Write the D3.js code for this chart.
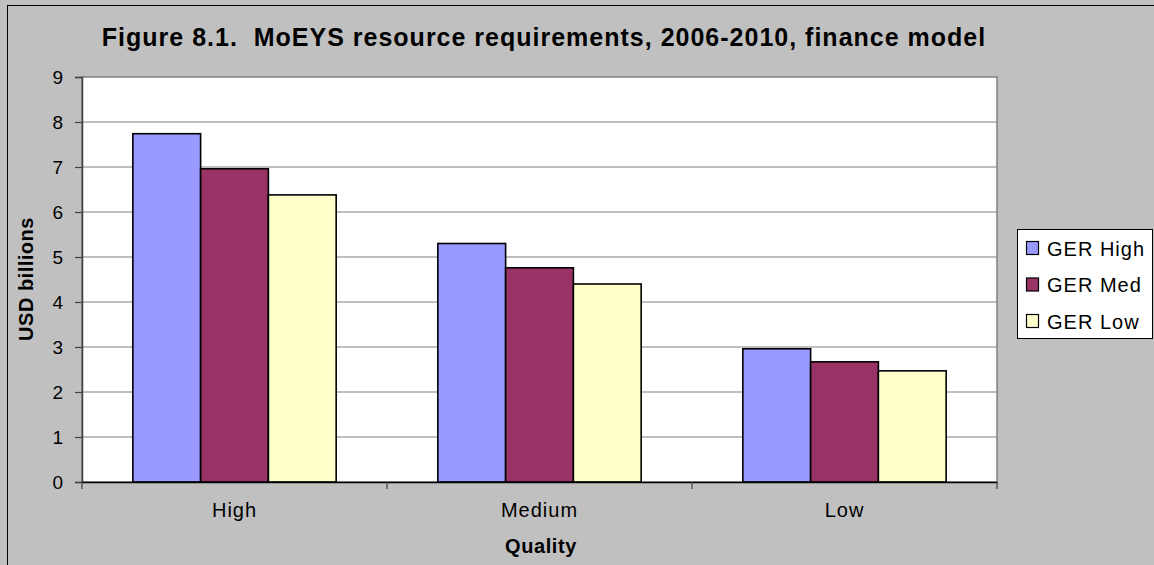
<!DOCTYPE html>
<html>
<head>
<meta charset="utf-8">
<script src="https://cdn.jsdelivr.net/npm/d3@7"></script>
<style>
  html, body { margin: 0; padding: 0; background: #c0c0c0; }
  svg { display: block; font-family: Arial, "Liberation Sans", sans-serif; }
</style>
</head>
<body>
<svg id="chart" width="1154" height="565"></svg>
<script>
// Quality scenarios on the x axis
const categories = ["High", "Medium", "Low"];
// Series (GER scenarios)
const seriesNames = ["GER High", "GER Med", "GER Low"];
const seriesColors = ["#9999ff", "#993366", "#ffffcc"];
// Resource requirements, USD billions, per quality level
const gerHigh = [7.74, 5.30, 2.96];
const gerMed  = [6.96, 4.76, 2.67];
const gerLow  = [6.38, 4.40, 2.47];
const yTicks = [0, 1, 2, 3, 4, 5, 6, 7, 8, 9];

const title = "Figure 8.1.  MoEYS resource requirements, 2006-2010, finance model";
const xTitle = "Quality";
const yTitle = "USD billions";

const seriesValues = [gerHigh, gerMed, gerLow];

const svg = d3.select("#chart");
const plot = { left: 82, top: 77, right: 997, bottom: 482 };

// chart frame
svg.append("rect")
  .attr("x", 7.5).attr("y", 5.5)
  .attr("width", 1200).attr("height", 600)
  .attr("fill", "#c0c0c0").attr("stroke", "#000").attr("stroke-width", 1);

// plot area
svg.append("rect")
  .attr("x", plot.left).attr("y", plot.top)
  .attr("width", plot.right - plot.left).attr("height", plot.bottom - plot.top)
  .attr("fill", "#fff").attr("stroke", "#808080").attr("stroke-width", 1.5);

const x0 = d3.scaleBand().domain(categories).range([plot.left, plot.right]).paddingInner(0).paddingOuter(0);
const groupW = x0.bandwidth();
const barW = groupW / 4.5;
const x1 = d3.scaleBand().domain(seriesNames)
  .range([(groupW - 3 * barW) / 2, (groupW + 3 * barW) / 2]).padding(0);
const y = d3.scaleLinear().domain([0, 9]).range([plot.bottom, plot.top]);

// gridlines
svg.append("g").selectAll("line").data(yTicks.filter(d => d > 0 && d < 9)).join("line")
  .attr("x1", plot.left).attr("x2", plot.right)
  .attr("y1", d => y(d)).attr("y2", d => y(d))
  .attr("stroke", "#808080").attr("stroke-width", 1.2);

// bars
const groups = svg.append("g").selectAll("g").data(categories).join("g")
  .attr("transform", d => `translate(${x0(d)},0)`);
groups.selectAll("rect")
  .data((c, i) => seriesNames.map((s, k) => ({ s, k, v: seriesValues[k][i] })))
  .join("rect")
  .attr("x", d => x1(d.s)).attr("width", x1.bandwidth())
  .attr("y", d => y(d.v)).attr("height", d => y(0) - y(d.v))
  .attr("fill", d => seriesColors[d.k])
  .attr("stroke", "#000").attr("stroke-width", 1.6);

// y axis
const yAxis = svg.append("g").attr("transform", `translate(${plot.left},0)`)
  .call(d3.axisLeft(y).tickValues(yTicks).tickSize(7).tickPadding(12).tickFormat(d3.format("d")));
yAxis.select(".domain").attr("stroke", "#404040").attr("stroke-width", 1.5);
yAxis.selectAll(".tick line").attr("stroke", "#404040").attr("stroke-width", 1.2);
yAxis.selectAll("text").attr("font-size", 19).attr("fill", "#000")
  .attr("font-family", "Arial, 'Liberation Sans', sans-serif");

// x axis
const xAxis = svg.append("g").attr("transform", `translate(0,${plot.bottom})`)
  .call(d3.axisBottom(x0).tickSize(0).tickPadding(21));
xAxis.select(".domain").attr("stroke", "#000").attr("stroke-width", 1.5);
xAxis.selectAll("text").attr("font-size", 20).attr("fill", "#000")
  .attr("letter-spacing", 1)
  .attr("font-family", "Arial, 'Liberation Sans', sans-serif");
// category boundary ticks
const bounds = categories.map(c => x0(c)).concat([x0(categories[categories.length - 1]) + groupW]);
svg.append("g").selectAll("line").data(bounds).join("line")
  .attr("x1", d => d).attr("x2", d => d)
  .attr("y1", plot.bottom).attr("y2", plot.bottom + 7)
  .attr("stroke", "#404040").attr("stroke-width", 1.2);

// title
svg.append("text")
  .attr("x", 544).attr("y", 46)
  .attr("text-anchor", "middle")
  .style("white-space", "pre")
  .attr("font-size", 25).attr("font-weight", "bold").attr("letter-spacing", 1)
  .text(title);

// axis titles
svg.append("text")
  .attr("x", 541).attr("y", 553)
  .attr("text-anchor", "middle")
  .attr("font-size", 20).attr("font-weight", "bold").attr("letter-spacing", 0.6)
  .text(xTitle);
svg.append("text")
  .attr("transform", "translate(33,279) rotate(-90)")
  .attr("text-anchor", "middle")
  .attr("font-size", 20).attr("font-weight", "bold").attr("letter-spacing", 0.5)
  .text(yTitle);

// legend
const legend = svg.append("g");
legend.append("rect")
  .attr("x", 1017.5).attr("y", 229.5).attr("width", 135).attr("height", 109)
  .attr("fill", "#fff").attr("stroke", "#000").attr("stroke-width", 1);
const items = legend.selectAll("g.item").data(seriesNames).join("g")
  .attr("class", "item")
  .attr("transform", (d, i) => `translate(1026,${248 + i * 36.5})`);
items.append("rect")
  .attr("x", 0.5).attr("y", -6.5).attr("width", 12).attr("height", 13)
  .attr("fill", (d, i) => seriesColors[i]).attr("stroke", "#000").attr("stroke-width", 1.2);
items.append("text")
  .attr("x", 21).attr("y", 7.5)
  .attr("font-size", 20).attr("letter-spacing", 1)
  .text(d => d);
</script>
</body>
</html>
